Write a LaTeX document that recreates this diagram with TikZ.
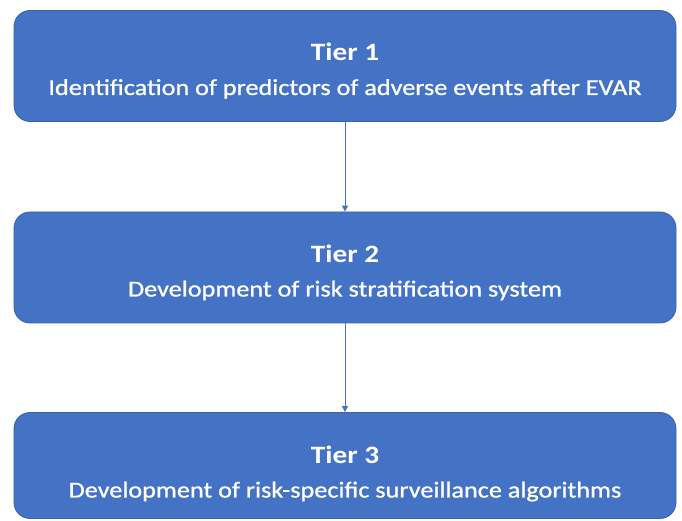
\documentclass[tikz,border=0pt]{standalone}
\usepackage{fontspec}
\setmainfont{Carlito}
\newfontfamily\tierfont[FakeStretch=1.17]{Carlito}
\newfontfamily\tiersubfont[FakeStretch=1.15,FakeBold=0.9]{Carlito}
\usetikzlibrary{arrows.meta}
\definecolor{boxblue}{HTML}{4472C4}
\definecolor{boxedge}{HTML}{3A63AE}
\tikzset{
  tierbox/.style={draw=boxedge, line width=0.8pt, fill=boxblue, rounded corners=16pt,
    minimum width=662pt, minimum height=111pt, inner sep=0pt},
  tiertitle/.style={text=white, anchor=base, inner sep=0pt, font=\tierfont\fontsize{25}{30}\selectfont\bfseries},
  tiersub/.style={text=white, anchor=base, inner sep=0pt, font=\tiersubfont\fontsize{22.8}{27}\selectfont},
  link/.style={draw=boxblue, line width=1pt, -{Triangle[length=6pt,width=6pt]}}
}
\begin{document}
\begin{tikzpicture}[x=1pt,y=1pt]
\useasboundingbox (0,0) rectangle (682,521);
\node[tierbox] (t1) at (345,455) {};
\node[tiertitle] (t1a) at ([yshift=5pt]t1.center) {Tier 1};
\node[tiersub] (t1b) at ([yshift=-29pt]t1.center) {Identification of predictors of adverse events after EVAR};
\node[tierbox] (t2) at (345,253.5) {};
\node[tiertitle] (t2a) at ([yshift=5pt]t2.center) {Tier 2};
\node[tiersub] (t2b) at ([yshift=-29pt]t2.center) {Development of risk stratification system};
\node[tierbox, minimum height=106pt] (t3) at (345,55.5) {};
\node[tiertitle] (t3a) at ([yshift=2pt]t3.center) {Tier 3};
\node[tiersub] (t3b) at ([yshift=-32pt]t3.center) {Development of risk-specific surveillance algorithms};
\draw[link] (t1.south) -- (t2.north);
\draw[link] (t2.south) -- (t3.north);
\end{tikzpicture}
\end{document}
